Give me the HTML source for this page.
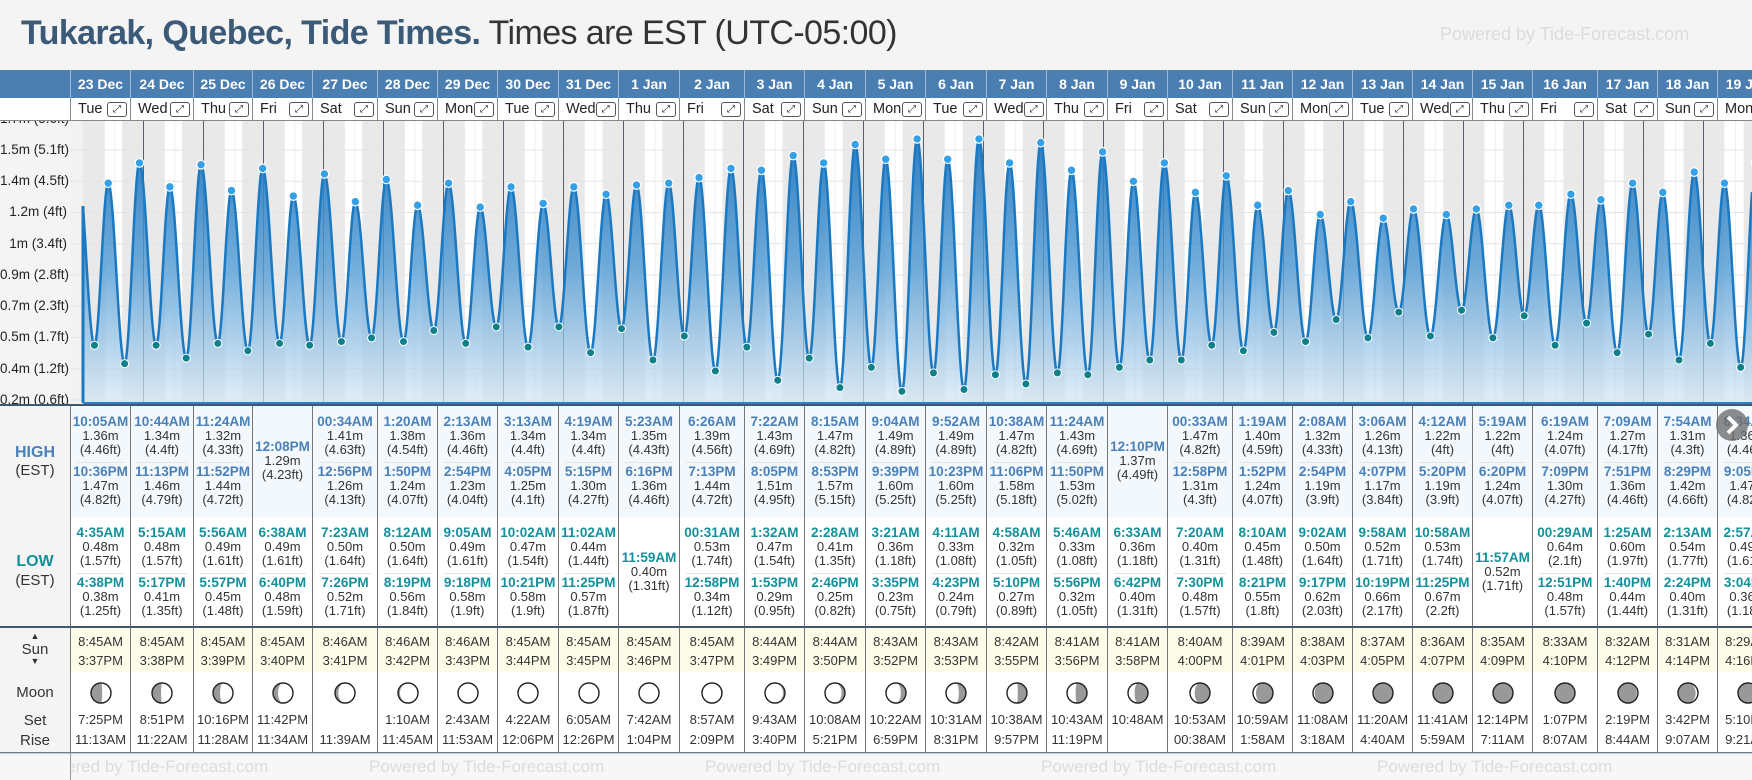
<!DOCTYPE html>
<html><head><meta charset="utf-8">
<style>
*{box-sizing:border-box}
body{margin:0;width:1752px;height:780px;overflow:hidden;background:#f4f4f4;font-family:"Liberation Sans",sans-serif;position:relative;color:#333}
.title{position:absolute;left:21px;top:14px;font-size:34px;color:#333;white-space:nowrap;letter-spacing:-0.6px}
.title b{color:#3b5a78}
.wm{position:absolute;color:#dcdcdc;font-size:18px;white-space:nowrap}
.c{position:absolute;top:70px;height:682px}
.dt{height:28px;background:#4c7fb1;color:#fff;font-weight:bold;font-size:14px;line-height:28px;text-align:center;border-left:1px solid #9cb9d6;white-space:nowrap;overflow:hidden}
.wd{height:23px;background:#fff;border-left:1px solid #888;border-bottom:1px solid #888;display:flex;justify-content:space-between;align-items:center;padding:0 3px 0 7px;font-size:14.5px;color:#222;overflow:hidden;white-space:nowrap}
.ic{width:20px;height:15px;border:1px solid #555;border-radius:3px;font-size:10px;line-height:13px;text-align:center;flex:none;font-family:"DejaVu Sans",sans-serif}
.bd{position:absolute;top:336px;left:0;right:0;height:346px;border-left:1px solid #777}
.hi,.lo,.su,.mo{position:absolute;left:0;right:0}
.hi{top:0;height:111px;background:#f3f8fd}
.lo{top:111px;height:109px;background:#fff}
.su{top:222px;height:44px;background:#fcfce9;text-align:center;font-size:13px;line-height:19px;padding-top:4px;white-space:nowrap}
.mo{top:266px;height:80px;background:#fff;text-align:center}
.mo svg{position:absolute;top:9px;left:50%;margin-left:-12px}
.ms{position:absolute;top:38px;left:0;right:0;font-size:13px;line-height:20px;white-space:nowrap}
.e{position:absolute;left:0;right:0;text-align:center;font-size:13px;line-height:14px;white-space:nowrap}
.e b{display:block;font-size:13.5px}
.hi .e b{color:#4a80b8}
.lo .e b{color:#13909a}
.t1{top:9px}.t2{top:59px}.t0{top:34px}
.sp{position:absolute;left:6px;right:6px;top:56px;height:1px;background:#e3e3e3}
.hl{position:absolute;left:0;width:1752px;background:#3e5870}
.lab{position:absolute;left:0;width:70px;text-align:center}
.yl{position:absolute;left:0;width:67px;text-align:right;font-size:13.5px;color:#222;white-space:nowrap}
</style></head><body>
<div class="title"><b>Tukarak, Quebec, Tide Times.</b> Times are EST (UTC-05:00)</div>
<div class="wm" style="left:1440px;top:24px">Powered by Tide-Forecast.com</div>

<svg id="ch" style="position:absolute;left:70px;top:121px" width="1682" height="284"></svg>

<div style="position:absolute;left:0;top:70px;width:70px;height:28px;background:#4c7fb1"></div>
<div style="position:absolute;left:0;top:98px;width:70px;height:23px;background:#fff;border-bottom:1px solid #888"></div>
<div style="position:absolute;left:0;top:121px;width:70px;height:283px;overflow:hidden;background:#f4f4f4">
<div class="yl" style="top:-10px">1.7m (5.6ft)</div>
<div class="yl" style="top:21px">1.5m (5.1ft)</div>
<div class="yl" style="top:52px">1.4m (4.5ft)</div>
<div class="yl" style="top:83px">1.2m (4ft)</div>
<div class="yl" style="top:115px">1m (3.4ft)</div>
<div class="yl" style="top:146px">0.9m (2.8ft)</div>
<div class="yl" style="top:177px">0.7m (2.3ft)</div>
<div class="yl" style="top:208px">0.5m (1.7ft)</div>
<div class="yl" style="top:240px">0.4m (1.2ft)</div>
<div class="yl" style="top:271px">0.2m (0.6ft)</div>
</div>
<div style="position:absolute;left:0;top:406px;width:70px;height:346px;background:#f4f4f4"></div>
<div class="lab" style="top:444px;font-size:16px;font-weight:bold;color:#4a80b8">HIGH</div>
<div class="lab" style="top:462px;font-size:15px">(EST)</div>
<div class="lab" style="top:553px;font-size:16px;font-weight:bold;color:#13909a">LOW</div>
<div class="lab" style="top:572px;font-size:15px">(EST)</div>
<div class="lab" style="top:631px;font-size:9px;line-height:10px">▲</div>
<div class="lab" style="top:641px;font-size:15px">Sun</div>
<div class="lab" style="top:656px;font-size:9px;line-height:10px">▼</div>
<div class="lab" style="top:684px;font-size:15px">Moon</div>
<div class="lab" style="top:712px;font-size:15px">Set</div>
<div class="lab" style="top:732px;font-size:15px">Rise</div>

<div class="c" style="left:70px;width:60px"><div class="dt">23 Dec</div><div class="wd">Tue<span class="ic">⤢</span></div><div class="bd"><div class="hi"><div class="e t1"><b>10:05AM</b>1.36m<br>(4.46ft)</div><i class="sp"></i><div class="e t2"><b>10:36PM</b>1.47m<br>(4.82ft)</div></div><div class="lo"><div class="e t1"><b>4:35AM</b>0.48m<br>(1.57ft)</div><i class="sp"></i><div class="e t2"><b>4:38PM</b>0.38m<br>(1.25ft)</div></div><div class="su">8:45AM<br>3:37PM</div><div class="mo"><svg class="m" width="24" height="24"></svg><div class="ms">7:25PM<br>11:13AM</div></div></div></div>
<div class="c" style="left:130px;width:63px"><div class="dt">24 Dec</div><div class="wd">Wed<span class="ic">⤢</span></div><div class="bd"><div class="hi"><div class="e t1"><b>10:44AM</b>1.34m<br>(4.4ft)</div><i class="sp"></i><div class="e t2"><b>11:13PM</b>1.46m<br>(4.79ft)</div></div><div class="lo"><div class="e t1"><b>5:15AM</b>0.48m<br>(1.57ft)</div><i class="sp"></i><div class="e t2"><b>5:17PM</b>0.41m<br>(1.35ft)</div></div><div class="su">8:45AM<br>3:38PM</div><div class="mo"><svg class="m" width="24" height="24"></svg><div class="ms">8:51PM<br>11:22AM</div></div></div></div>
<div class="c" style="left:193px;width:59px"><div class="dt">25 Dec</div><div class="wd">Thu<span class="ic">⤢</span></div><div class="bd"><div class="hi"><div class="e t1"><b>11:24AM</b>1.32m<br>(4.33ft)</div><i class="sp"></i><div class="e t2"><b>11:52PM</b>1.44m<br>(4.72ft)</div></div><div class="lo"><div class="e t1"><b>5:56AM</b>0.49m<br>(1.61ft)</div><i class="sp"></i><div class="e t2"><b>5:57PM</b>0.45m<br>(1.48ft)</div></div><div class="su">8:45AM<br>3:39PM</div><div class="mo"><svg class="m" width="24" height="24"></svg><div class="ms">10:16PM<br>11:28AM</div></div></div></div>
<div class="c" style="left:252px;width:60px"><div class="dt">26 Dec</div><div class="wd">Fri<span class="ic">⤢</span></div><div class="bd"><div class="hi"><div class="e t0"><b>12:08PM</b>1.29m<br>(4.23ft)</div></div><div class="lo"><div class="e t1"><b>6:38AM</b>0.49m<br>(1.61ft)</div><i class="sp"></i><div class="e t2"><b>6:40PM</b>0.48m<br>(1.59ft)</div></div><div class="su">8:45AM<br>3:40PM</div><div class="mo"><svg class="m" width="24" height="24"></svg><div class="ms">11:42PM<br>11:34AM</div></div></div></div>
<div class="c" style="left:312px;width:65px"><div class="dt">27 Dec</div><div class="wd">Sat<span class="ic">⤢</span></div><div class="bd"><div class="hi"><div class="e t1"><b>00:34AM</b>1.41m<br>(4.63ft)</div><i class="sp"></i><div class="e t2"><b>12:56PM</b>1.26m<br>(4.13ft)</div></div><div class="lo"><div class="e t1"><b>7:23AM</b>0.50m<br>(1.64ft)</div><i class="sp"></i><div class="e t2"><b>7:26PM</b>0.52m<br>(1.71ft)</div></div><div class="su">8:46AM<br>3:41PM</div><div class="mo"><svg class="m" width="24" height="24"></svg><div class="ms">&nbsp;<br>11:39AM</div></div></div></div>
<div class="c" style="left:377px;width:60px"><div class="dt">28 Dec</div><div class="wd">Sun<span class="ic">⤢</span></div><div class="bd"><div class="hi"><div class="e t1"><b>1:20AM</b>1.38m<br>(4.54ft)</div><i class="sp"></i><div class="e t2"><b>1:50PM</b>1.24m<br>(4.07ft)</div></div><div class="lo"><div class="e t1"><b>8:12AM</b>0.50m<br>(1.64ft)</div><i class="sp"></i><div class="e t2"><b>8:19PM</b>0.56m<br>(1.84ft)</div></div><div class="su">8:46AM<br>3:42PM</div><div class="mo"><svg class="m" width="24" height="24"></svg><div class="ms">1:10AM<br>11:45AM</div></div></div></div>
<div class="c" style="left:437px;width:60px"><div class="dt">29 Dec</div><div class="wd">Mon<span class="ic">⤢</span></div><div class="bd"><div class="hi"><div class="e t1"><b>2:13AM</b>1.36m<br>(4.46ft)</div><i class="sp"></i><div class="e t2"><b>2:54PM</b>1.23m<br>(4.04ft)</div></div><div class="lo"><div class="e t1"><b>9:05AM</b>0.49m<br>(1.61ft)</div><i class="sp"></i><div class="e t2"><b>9:18PM</b>0.58m<br>(1.9ft)</div></div><div class="su">8:46AM<br>3:43PM</div><div class="mo"><svg class="m" width="24" height="24"></svg><div class="ms">2:43AM<br>11:53AM</div></div></div></div>
<div class="c" style="left:497px;width:61px"><div class="dt">30 Dec</div><div class="wd">Tue<span class="ic">⤢</span></div><div class="bd"><div class="hi"><div class="e t1"><b>3:13AM</b>1.34m<br>(4.4ft)</div><i class="sp"></i><div class="e t2"><b>4:05PM</b>1.25m<br>(4.1ft)</div></div><div class="lo"><div class="e t1"><b>10:02AM</b>0.47m<br>(1.54ft)</div><i class="sp"></i><div class="e t2"><b>10:21PM</b>0.58m<br>(1.9ft)</div></div><div class="su">8:45AM<br>3:44PM</div><div class="mo"><svg class="m" width="24" height="24"></svg><div class="ms">4:22AM<br>12:06PM</div></div></div></div>
<div class="c" style="left:558px;width:60px"><div class="dt">31 Dec</div><div class="wd">Wed<span class="ic">⤢</span></div><div class="bd"><div class="hi"><div class="e t1"><b>4:19AM</b>1.34m<br>(4.4ft)</div><i class="sp"></i><div class="e t2"><b>5:15PM</b>1.30m<br>(4.27ft)</div></div><div class="lo"><div class="e t1"><b>11:02AM</b>0.44m<br>(1.44ft)</div><i class="sp"></i><div class="e t2"><b>11:25PM</b>0.57m<br>(1.87ft)</div></div><div class="su">8:45AM<br>3:45PM</div><div class="mo"><svg class="m" width="24" height="24"></svg><div class="ms">6:05AM<br>12:26PM</div></div></div></div>
<div class="c" style="left:618px;width:61px"><div class="dt">1 Jan</div><div class="wd">Thu<span class="ic">⤢</span></div><div class="bd"><div class="hi"><div class="e t1"><b>5:23AM</b>1.35m<br>(4.43ft)</div><i class="sp"></i><div class="e t2"><b>6:16PM</b>1.36m<br>(4.46ft)</div></div><div class="lo"><div class="e t0"><b>11:59AM</b>0.40m<br>(1.31ft)</div></div><div class="su">8:45AM<br>3:46PM</div><div class="mo"><svg class="m" width="24" height="24"></svg><div class="ms">7:42AM<br>1:04PM</div></div></div></div>
<div class="c" style="left:679px;width:65px"><div class="dt">2 Jan</div><div class="wd">Fri<span class="ic">⤢</span></div><div class="bd"><div class="hi"><div class="e t1"><b>6:26AM</b>1.39m<br>(4.56ft)</div><i class="sp"></i><div class="e t2"><b>7:13PM</b>1.44m<br>(4.72ft)</div></div><div class="lo"><div class="e t1"><b>00:31AM</b>0.53m<br>(1.74ft)</div><i class="sp"></i><div class="e t2"><b>12:58PM</b>0.34m<br>(1.12ft)</div></div><div class="su">8:45AM<br>3:47PM</div><div class="mo"><svg class="m" width="24" height="24"></svg><div class="ms">8:57AM<br>2:09PM</div></div></div></div>
<div class="c" style="left:744px;width:60px"><div class="dt">3 Jan</div><div class="wd">Sat<span class="ic">⤢</span></div><div class="bd"><div class="hi"><div class="e t1"><b>7:22AM</b>1.43m<br>(4.69ft)</div><i class="sp"></i><div class="e t2"><b>8:05PM</b>1.51m<br>(4.95ft)</div></div><div class="lo"><div class="e t1"><b>1:32AM</b>0.47m<br>(1.54ft)</div><i class="sp"></i><div class="e t2"><b>1:53PM</b>0.29m<br>(0.95ft)</div></div><div class="su">8:44AM<br>3:49PM</div><div class="mo"><svg class="m" width="24" height="24"></svg><div class="ms">9:43AM<br>3:40PM</div></div></div></div>
<div class="c" style="left:804px;width:61px"><div class="dt">4 Jan</div><div class="wd">Sun<span class="ic">⤢</span></div><div class="bd"><div class="hi"><div class="e t1"><b>8:15AM</b>1.47m<br>(4.82ft)</div><i class="sp"></i><div class="e t2"><b>8:53PM</b>1.57m<br>(5.15ft)</div></div><div class="lo"><div class="e t1"><b>2:28AM</b>0.41m<br>(1.35ft)</div><i class="sp"></i><div class="e t2"><b>2:46PM</b>0.25m<br>(0.82ft)</div></div><div class="su">8:44AM<br>3:50PM</div><div class="mo"><svg class="m" width="24" height="24"></svg><div class="ms">10:08AM<br>5:21PM</div></div></div></div>
<div class="c" style="left:865px;width:60px"><div class="dt">5 Jan</div><div class="wd">Mon<span class="ic">⤢</span></div><div class="bd"><div class="hi"><div class="e t1"><b>9:04AM</b>1.49m<br>(4.89ft)</div><i class="sp"></i><div class="e t2"><b>9:39PM</b>1.60m<br>(5.25ft)</div></div><div class="lo"><div class="e t1"><b>3:21AM</b>0.36m<br>(1.18ft)</div><i class="sp"></i><div class="e t2"><b>3:35PM</b>0.23m<br>(0.75ft)</div></div><div class="su">8:43AM<br>3:52PM</div><div class="mo"><svg class="m" width="24" height="24"></svg><div class="ms">10:22AM<br>6:59PM</div></div></div></div>
<div class="c" style="left:925px;width:61px"><div class="dt">6 Jan</div><div class="wd">Tue<span class="ic">⤢</span></div><div class="bd"><div class="hi"><div class="e t1"><b>9:52AM</b>1.49m<br>(4.89ft)</div><i class="sp"></i><div class="e t2"><b>10:23PM</b>1.60m<br>(5.25ft)</div></div><div class="lo"><div class="e t1"><b>4:11AM</b>0.33m<br>(1.08ft)</div><i class="sp"></i><div class="e t2"><b>4:23PM</b>0.24m<br>(0.79ft)</div></div><div class="su">8:43AM<br>3:53PM</div><div class="mo"><svg class="m" width="24" height="24"></svg><div class="ms">10:31AM<br>8:31PM</div></div></div></div>
<div class="c" style="left:986px;width:60px"><div class="dt">7 Jan</div><div class="wd">Wed<span class="ic">⤢</span></div><div class="bd"><div class="hi"><div class="e t1"><b>10:38AM</b>1.47m<br>(4.82ft)</div><i class="sp"></i><div class="e t2"><b>11:06PM</b>1.58m<br>(5.18ft)</div></div><div class="lo"><div class="e t1"><b>4:58AM</b>0.32m<br>(1.05ft)</div><i class="sp"></i><div class="e t2"><b>5:10PM</b>0.27m<br>(0.89ft)</div></div><div class="su">8:42AM<br>3:55PM</div><div class="mo"><svg class="m" width="24" height="24"></svg><div class="ms">10:38AM<br>9:57PM</div></div></div></div>
<div class="c" style="left:1046px;width:61px"><div class="dt">8 Jan</div><div class="wd">Thu<span class="ic">⤢</span></div><div class="bd"><div class="hi"><div class="e t1"><b>11:24AM</b>1.43m<br>(4.69ft)</div><i class="sp"></i><div class="e t2"><b>11:50PM</b>1.53m<br>(5.02ft)</div></div><div class="lo"><div class="e t1"><b>5:46AM</b>0.33m<br>(1.08ft)</div><i class="sp"></i><div class="e t2"><b>5:56PM</b>0.32m<br>(1.05ft)</div></div><div class="su">8:41AM<br>3:56PM</div><div class="mo"><svg class="m" width="24" height="24"></svg><div class="ms">10:43AM<br>11:19PM</div></div></div></div>
<div class="c" style="left:1107px;width:60px"><div class="dt">9 Jan</div><div class="wd">Fri<span class="ic">⤢</span></div><div class="bd"><div class="hi"><div class="e t0"><b>12:10PM</b>1.37m<br>(4.49ft)</div></div><div class="lo"><div class="e t1"><b>6:33AM</b>0.36m<br>(1.18ft)</div><i class="sp"></i><div class="e t2"><b>6:42PM</b>0.40m<br>(1.31ft)</div></div><div class="su">8:41AM<br>3:58PM</div><div class="mo"><svg class="m" width="24" height="24"></svg><div class="ms">10:48AM<br>&nbsp;</div></div></div></div>
<div class="c" style="left:1167px;width:65px"><div class="dt">10 Jan</div><div class="wd">Sat<span class="ic">⤢</span></div><div class="bd"><div class="hi"><div class="e t1"><b>00:33AM</b>1.47m<br>(4.82ft)</div><i class="sp"></i><div class="e t2"><b>12:58PM</b>1.31m<br>(4.3ft)</div></div><div class="lo"><div class="e t1"><b>7:20AM</b>0.40m<br>(1.31ft)</div><i class="sp"></i><div class="e t2"><b>7:30PM</b>0.48m<br>(1.57ft)</div></div><div class="su">8:40AM<br>4:00PM</div><div class="mo"><svg class="m" width="24" height="24"></svg><div class="ms">10:53AM<br>00:38AM</div></div></div></div>
<div class="c" style="left:1232px;width:60px"><div class="dt">11 Jan</div><div class="wd">Sun<span class="ic">⤢</span></div><div class="bd"><div class="hi"><div class="e t1"><b>1:19AM</b>1.40m<br>(4.59ft)</div><i class="sp"></i><div class="e t2"><b>1:52PM</b>1.24m<br>(4.07ft)</div></div><div class="lo"><div class="e t1"><b>8:10AM</b>0.45m<br>(1.48ft)</div><i class="sp"></i><div class="e t2"><b>8:21PM</b>0.55m<br>(1.8ft)</div></div><div class="su">8:39AM<br>4:01PM</div><div class="mo"><svg class="m" width="24" height="24"></svg><div class="ms">10:59AM<br>1:58AM</div></div></div></div>
<div class="c" style="left:1292px;width:60px"><div class="dt">12 Jan</div><div class="wd">Mon<span class="ic">⤢</span></div><div class="bd"><div class="hi"><div class="e t1"><b>2:08AM</b>1.32m<br>(4.33ft)</div><i class="sp"></i><div class="e t2"><b>2:54PM</b>1.19m<br>(3.9ft)</div></div><div class="lo"><div class="e t1"><b>9:02AM</b>0.50m<br>(1.64ft)</div><i class="sp"></i><div class="e t2"><b>9:17PM</b>0.62m<br>(2.03ft)</div></div><div class="su">8:38AM<br>4:03PM</div><div class="mo"><svg class="m" width="24" height="24"></svg><div class="ms">11:08AM<br>3:18AM</div></div></div></div>
<div class="c" style="left:1352px;width:60px"><div class="dt">13 Jan</div><div class="wd">Tue<span class="ic">⤢</span></div><div class="bd"><div class="hi"><div class="e t1"><b>3:06AM</b>1.26m<br>(4.13ft)</div><i class="sp"></i><div class="e t2"><b>4:07PM</b>1.17m<br>(3.84ft)</div></div><div class="lo"><div class="e t1"><b>9:58AM</b>0.52m<br>(1.71ft)</div><i class="sp"></i><div class="e t2"><b>10:19PM</b>0.66m<br>(2.17ft)</div></div><div class="su">8:37AM<br>4:05PM</div><div class="mo"><svg class="m" width="24" height="24"></svg><div class="ms">11:20AM<br>4:40AM</div></div></div></div>
<div class="c" style="left:1412px;width:60px"><div class="dt">14 Jan</div><div class="wd">Wed<span class="ic">⤢</span></div><div class="bd"><div class="hi"><div class="e t1"><b>4:12AM</b>1.22m<br>(4ft)</div><i class="sp"></i><div class="e t2"><b>5:20PM</b>1.19m<br>(3.9ft)</div></div><div class="lo"><div class="e t1"><b>10:58AM</b>0.53m<br>(1.74ft)</div><i class="sp"></i><div class="e t2"><b>11:25PM</b>0.67m<br>(2.2ft)</div></div><div class="su">8:36AM<br>4:07PM</div><div class="mo"><svg class="m" width="24" height="24"></svg><div class="ms">11:41AM<br>5:59AM</div></div></div></div>
<div class="c" style="left:1472px;width:60px"><div class="dt">15 Jan</div><div class="wd">Thu<span class="ic">⤢</span></div><div class="bd"><div class="hi"><div class="e t1"><b>5:19AM</b>1.22m<br>(4ft)</div><i class="sp"></i><div class="e t2"><b>6:20PM</b>1.24m<br>(4.07ft)</div></div><div class="lo"><div class="e t0"><b>11:57AM</b>0.52m<br>(1.71ft)</div></div><div class="su">8:35AM<br>4:09PM</div><div class="mo"><svg class="m" width="24" height="24"></svg><div class="ms">12:14PM<br>7:11AM</div></div></div></div>
<div class="c" style="left:1532px;width:65px"><div class="dt">16 Jan</div><div class="wd">Fri<span class="ic">⤢</span></div><div class="bd"><div class="hi"><div class="e t1"><b>6:19AM</b>1.24m<br>(4.07ft)</div><i class="sp"></i><div class="e t2"><b>7:09PM</b>1.30m<br>(4.27ft)</div></div><div class="lo"><div class="e t1"><b>00:29AM</b>0.64m<br>(2.1ft)</div><i class="sp"></i><div class="e t2"><b>12:51PM</b>0.48m<br>(1.57ft)</div></div><div class="su">8:33AM<br>4:10PM</div><div class="mo"><svg class="m" width="24" height="24"></svg><div class="ms">1:07PM<br>8:07AM</div></div></div></div>
<div class="c" style="left:1597px;width:60px"><div class="dt">17 Jan</div><div class="wd">Sat<span class="ic">⤢</span></div><div class="bd"><div class="hi"><div class="e t1"><b>7:09AM</b>1.27m<br>(4.17ft)</div><i class="sp"></i><div class="e t2"><b>7:51PM</b>1.36m<br>(4.46ft)</div></div><div class="lo"><div class="e t1"><b>1:25AM</b>0.60m<br>(1.97ft)</div><i class="sp"></i><div class="e t2"><b>1:40PM</b>0.44m<br>(1.44ft)</div></div><div class="su">8:32AM<br>4:12PM</div><div class="mo"><svg class="m" width="24" height="24"></svg><div class="ms">2:19PM<br>8:44AM</div></div></div></div>
<div class="c" style="left:1657px;width:60px"><div class="dt">18 Jan</div><div class="wd">Sun<span class="ic">⤢</span></div><div class="bd"><div class="hi"><div class="e t1"><b>7:54AM</b>1.31m<br>(4.3ft)</div><i class="sp"></i><div class="e t2"><b>8:29PM</b>1.42m<br>(4.66ft)</div></div><div class="lo"><div class="e t1"><b>2:13AM</b>0.54m<br>(1.77ft)</div><i class="sp"></i><div class="e t2"><b>2:24PM</b>0.40m<br>(1.31ft)</div></div><div class="su">8:31AM<br>4:14PM</div><div class="mo"><svg class="m" width="24" height="24"></svg><div class="ms">3:42PM<br>9:07AM</div></div></div></div>
<div class="c" style="left:1717px;width:60px"><div class="dt">19 Jan</div><div class="wd">Mon<span class="ic">⤢</span></div><div class="bd"><div class="hi"><div class="e t1"><b>8:34AM</b>1.36m<br>(4.46ft)</div><i class="sp"></i><div class="e t2"><b>9:05PM</b>1.47m<br>(4.82ft)</div></div><div class="lo"><div class="e t1"><b>2:57AM</b>0.49m<br>(1.61ft)</div><i class="sp"></i><div class="e t2"><b>3:04PM</b>0.36m<br>(1.18ft)</div></div><div class="su">8:29AM<br>4:16PM</div><div class="mo"><svg class="m" width="24" height="24"></svg><div class="ms">5:10PM<br>9:21AM</div></div></div></div>

<div class="hl" style="top:404px;height:2px"></div>
<div class="hl" style="top:626px;height:2px"></div>
<div class="hl" style="top:752px;height:1px;background:#6a7f92"></div>
<div style="position:absolute;left:0;top:753px;width:1752px;height:27px;background:#f7f7f7;border-top:1px solid #ccc"></div>
<div style="position:absolute;left:70px;top:753px;width:1px;height:27px;background:#999"></div>
<div style="position:absolute;left:71px;top:753px;width:1681px;height:27px;overflow:hidden">
<div class="wm" style="left:-38px;top:4px;font-size:17px">Powered by Tide-Forecast.com</div>
<div class="wm" style="left:298px;top:4px;font-size:17px">Powered by Tide-Forecast.com</div>
<div class="wm" style="left:634px;top:4px;font-size:17px">Powered by Tide-Forecast.com</div>
<div class="wm" style="left:970px;top:4px;font-size:17px">Powered by Tide-Forecast.com</div>
<div class="wm" style="left:1306px;top:4px;font-size:17px">Powered by Tide-Forecast.com</div>
</div>
<svg style="position:absolute;left:1714px;top:407px" width="38" height="36"><circle cx="18" cy="18" r="16" fill="rgba(110,110,110,0.8)"/><path d="M14 10 L22 18 L14 26" stroke="#fff" stroke-width="4" fill="none"/></svg>

<script>
(function(){
var NS="http://www.w3.org/2000/svg";
function el(p,t,a){var e=document.createElementNS(NS,t);for(var k in a)e.setAttribute(k,a[k]);p.appendChild(e);return e;}
function pm(s){var m=s.match(/(\d+):(\d+)(AM|PM)/);var h=(+m[1])%12;if(m[3]=="PM")h+=12;return h*60+(+m[2]);}
var HI=[[0,"10:05AM",1.36],[0,"10:36PM",1.47],[1,"10:44AM",1.34],[1,"11:13PM",1.46],[2,"11:24AM",1.32],[2,"11:52PM",1.44],[3,"12:08PM",1.29],[4,"00:34AM",1.41],[4,"12:56PM",1.26],[5,"1:20AM",1.38],[5,"1:50PM",1.24],[6,"2:13AM",1.36],[6,"2:54PM",1.23],[7,"3:13AM",1.34],[7,"4:05PM",1.25],[8,"4:19AM",1.34],[8,"5:15PM",1.30],[9,"5:23AM",1.35],[9,"6:16PM",1.36],[10,"6:26AM",1.39],[10,"7:13PM",1.44],[11,"7:22AM",1.43],[11,"8:05PM",1.51],[12,"8:15AM",1.47],[12,"8:53PM",1.57],[13,"9:04AM",1.49],[13,"9:39PM",1.60],[14,"9:52AM",1.49],[14,"10:23PM",1.60],[15,"10:38AM",1.47],[15,"11:06PM",1.58],[16,"11:24AM",1.43],[16,"11:50PM",1.53],[17,"12:10PM",1.37],[18,"00:33AM",1.47],[18,"12:58PM",1.31],[19,"1:19AM",1.40],[19,"1:52PM",1.24],[20,"2:08AM",1.32],[20,"2:54PM",1.19],[21,"3:06AM",1.26],[21,"4:07PM",1.17],[22,"4:12AM",1.22],[22,"5:20PM",1.19],[23,"5:19AM",1.22],[23,"6:20PM",1.24],[24,"6:19AM",1.24],[24,"7:09PM",1.30],[25,"7:09AM",1.27],[25,"7:51PM",1.36],[26,"7:54AM",1.31],[26,"8:29PM",1.42],[27,"8:34AM",1.36],[27,"9:05PM",1.47]];
var LO=[[0,"4:35AM",.48],[0,"4:38PM",.38],[1,"5:15AM",.48],[1,"5:17PM",.41],[2,"5:56AM",.49],[2,"5:57PM",.45],[3,"6:38AM",.49],[3,"6:40PM",.48],[4,"7:23AM",.50],[4,"7:26PM",.52],[5,"8:12AM",.50],[5,"8:19PM",.56],[6,"9:05AM",.49],[6,"9:18PM",.58],[7,"10:02AM",.47],[7,"10:21PM",.58],[8,"11:02AM",.44],[8,"11:25PM",.57],[9,"11:59AM",.40],[10,"00:31AM",.53],[10,"12:58PM",.34],[11,"1:32AM",.47],[11,"1:53PM",.29],[12,"2:28AM",.41],[12,"2:46PM",.25],[13,"3:21AM",.36],[13,"3:35PM",.23],[14,"4:11AM",.33],[14,"4:23PM",.24],[15,"4:58AM",.32],[15,"5:10PM",.27],[16,"5:46AM",.33],[16,"5:56PM",.32],[17,"6:33AM",.36],[17,"6:42PM",.40],[18,"7:20AM",.40],[18,"7:30PM",.48],[19,"8:10AM",.45],[19,"8:21PM",.55],[20,"9:02AM",.50],[20,"9:17PM",.62],[21,"9:58AM",.52],[21,"10:19PM",.66],[22,"10:58AM",.53],[22,"11:25PM",.67],[23,"11:57AM",.52],[24,"00:29AM",.64],[24,"12:51PM",.48],[25,"1:25AM",.60],[25,"1:40PM",.44],[26,"2:13AM",.54],[26,"2:24PM",.40],[27,"2:57AM",.49],[27,"3:04PM",.36]];
var SR=["8:45AM","8:45AM","8:45AM","8:45AM","8:46AM","8:46AM","8:46AM","8:45AM","8:45AM","8:45AM","8:45AM","8:44AM","8:44AM","8:43AM","8:43AM","8:42AM","8:41AM","8:41AM","8:40AM","8:39AM","8:38AM","8:37AM","8:36AM","8:35AM","8:33AM","8:32AM","8:31AM","8:29AM"];
var SS=["3:37PM","3:38PM","3:39PM","3:40PM","3:41PM","3:42PM","3:43PM","3:44PM","3:45PM","3:46PM","3:47PM","3:49PM","3:50PM","3:52PM","3:53PM","3:55PM","3:56PM","3:58PM","4:00PM","4:01PM","4:03PM","4:05PM","4:07PM","4:09PM","4:10PM","4:12PM","4:14PM","4:16PM"];
var X0=83,DW=60;
function tx(t){return X0+DW*t/1440;}
function ty(m){return 400-(m*3.28084-0.6)*56.15;}
var svg=document.getElementById("ch");
var g=el(svg,"g",{transform:"translate(-70,-121)"});
var defs=el(g,"defs",{});
var lg=el(defs,"linearGradient",{id:"gr",x1:0,y1:130,x2:0,y2:403,gradientUnits:"userSpaceOnUse"});
el(lg,"stop",{offset:0,"stop-color":"#1f74bd","stop-opacity":0.95});
el(lg,"stop",{offset:0.5,"stop-color":"#4f9ad4","stop-opacity":0.8});
el(lg,"stop",{offset:1,"stop-color":"#d3e6f5","stop-opacity":0.7});
el(g,"rect",{x:70,y:121,width:1682,height:283,fill:"#f2f2f2"});
el(g,"rect",{x:83,y:121,width:1669,height:283,fill:"#e9e9e9"});
for(var i=0;i<28;i++){var a=tx(i*1440+pm(SR[i])),b=tx(i*1440+pm(SS[i]));
 el(g,"rect",{x:a,y:121,width:b-a,height:283,fill:"#ffffff"});
 el(g,"rect",{x:a+ (b-a)*0.55,y:121,width:1,height:283,fill:"#eeeeee"});}
for(var k=0;k<10;k++){var y=400-31.25*k;el(g,"line",{x1:70,x2:1752,y1:y,y2:y,stroke:"#e4e4e4","stroke-width":1});}
for(var i=1;i<29;i++){var x=tx(i*1440)+0.5;el(g,"line",{x1:x,x2:x,y1:121,y2:404,stroke:"#55606a","stroke-width":1});}
var ex=[];HI.forEach(function(h){ex.push({t:h[0]*1440+pm(h[1]),v:h[2],h:1});});LO.forEach(function(h){ex.push({t:h[0]*1440+pm(h[1]),v:h[2],h:0});});
ex.sort(function(a,b){return a.t-b.t;});
var all=[{t:-130,v:1.46}].concat(ex,[{t:28*1440+220,v:0.45}]);
var d="",j=0;
for(var x=X0;x<=1752;x+=0.5){var t=(x-X0)/DW*1440;while(j<all.length-2&&all[j+1].t<t)j++;var A=all[j],B=all[j+1];var f=(t-A.t)/(B.t-A.t);f=Math.max(0,Math.min(1,f));var v=A.v+(B.v-A.v)*(1-Math.cos(Math.PI*f))/2;d+=(d?"L":"M")+x.toFixed(1)+","+ty(v).toFixed(1);}
el(g,"path",{d:d+"L1752,403L"+X0+",403Z",fill:"url(#gr)"});
el(g,"path",{d:d,fill:"none",stroke:"#1b79c2","stroke-width":2.5,"stroke-linejoin":"round"});
el(g,"line",{x1:X0,x2:X0,y1:ty(1.236),y2:403,stroke:"#1b79c2","stroke-width":3});
el(g,"line",{x1:X0,x2:1752,y1:403,y2:403,stroke:"#2a83c8","stroke-width":2});
ex.forEach(function(e){var x=tx(e.t),y=ty(e.v);if(e.h)el(g,"circle",{cx:x,cy:y,r:4.3,fill:"#36a0e6",stroke:"#fff","stroke-width":1.2});else el(g,"circle",{cx:x,cy:y,r:4,fill:"#0f7f89",stroke:"#fff","stroke-width":1});});
var ms=document.querySelectorAll("svg.m");
for(var i=0;i<ms.length;i++){var s=ms[i],r=10,c=12;var age=((i+6.8)%29.53+29.53)%29.53;var th=2*Math.PI*age/29.53;var rx=Math.abs(Math.cos(th))*r;
 el(s,"circle",{cx:c,cy:c,r:r,fill:"#fff"});
 var p;
 if(th<Math.PI){var sw=th<Math.PI/2?0:1;p="M"+c+","+(c-r)+" A"+r+","+r+" 0 0 0 "+c+","+(c+r)+" A"+rx+","+r+" 0 0 "+sw+" "+c+","+(c-r)+"Z";}
 else{var sw=th<1.5*Math.PI?1:0;p="M"+c+","+(c-r)+" A"+r+","+r+" 0 0 1 "+c+","+(c+r)+" A"+rx+","+r+" 0 0 "+(sw?0:1)+" "+c+","+(c-r)+"Z";}
 el(s,"path",{d:p,fill:"#999"});
 el(s,"circle",{cx:c,cy:c,r:r,fill:"none",stroke:"#222","stroke-width":1.4});}
})();
</script>
</body></html>
